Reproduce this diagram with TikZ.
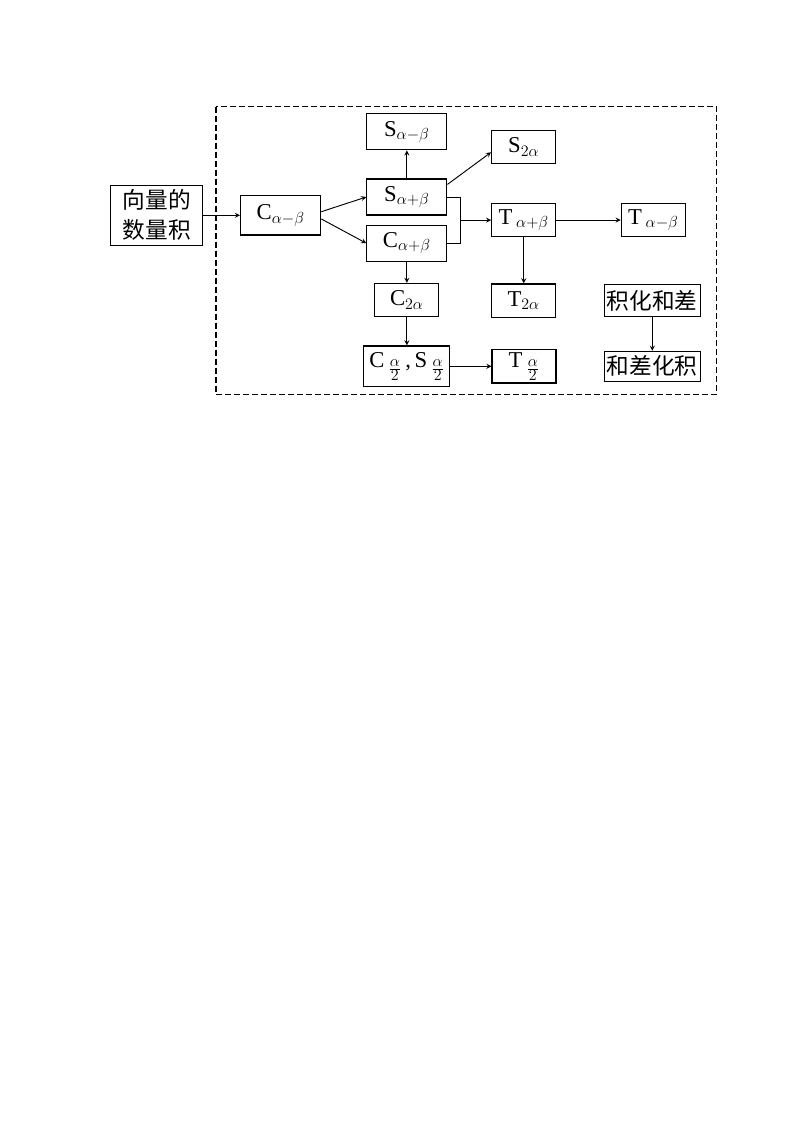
\documentclass[tikz,border=0pt]{standalone}
\usepackage{fontspec}
\setmainfont{Liberation Serif}
\newfontfamily\cjk{Noto Sans CJK SC}
\usetikzlibrary{arrows, calc, positioning}

\newcommand{\halfa}{\,\raisebox{-4.5pt}{$\scriptstyle\frac{\scriptstyle\alpha}{\scriptstyle 2}$}}

\begin{document}
\begin{tikzpicture}[>=stealth, font=\fontsize{17}{20}\selectfont, line width=0.7pt,
	box/.style={draw, line width=0.9pt, inner sep=2pt, minimum width=60pt, minimum height=27pt},
	sbox/.style={box, minimum width=48pt, minimum height=25pt},
	cnbox/.style={box, inner sep=2pt, font=\cjk\fontsize{17}{22.5}\selectfont},
	dashframe/.style={draw, line width=0.9pt, dash pattern=on 4.5pt off 2.25pt}]

\useasboundingbox (0,0) rectangle (594.75pt,-842.25pt);

\begin{scope}
	\node[box, minimum height=29.5pt] (c-amb) at (210.5pt,-161.5pt) {C$_{\alpha-\beta}$};
	\node[cnbox, left=27.5pt of c-amb, minimum width=69pt, minimum height=45pt, align=center, ] (vec) {向量的\\数量积};

	\node[box, right=33.75pt of c-amb, yshift=13.75pt] (s-apb) {S$_{\alpha+\beta}$};
	\node[box, below=6.75pt of s-apb] (c-apb) {C$_{\alpha+\beta}$};
	\node[box, above=21pt of s-apb] (s-amb) {S$_{\alpha-\beta}$};
	\node[sbox, below=15.75pt of c-apb] (c-2a) {C$_{2\alpha}$};
	\node[box, below=21pt of c-2a, minimum width=64.5pt, minimum height=30.5pt] (cs-half) {C\halfa\,,\,S\halfa};

	\coordinate (brk) at ($(s-apb.east)!0.5!(c-apb.east)+(9.5pt,0)$);

	\node[sbox, right=23.25pt of brk] (t-apb) {T\,$_{\alpha+\beta}$};
	\node[sbox, right=48.3pt of t-apb] (t-amb) {T\,$_{\alpha-\beta}$};
	\node[sbox, above=29pt of t-apb] (s-2a) {S$_{2\alpha}$};
	\node[sbox, below=34.5pt of t-apb] (t-2a) {T$_{2\alpha}$};
	\node[sbox, right=30.75pt of cs-half, minimum height=22.5pt] (t-half) {T\halfa};

	\node[cnbox, right=35.5pt of t-2a, minimum height=24.25pt] (jhhc) {积化和差};
	\node[cnbox, below=25pt of jhhc, minimum height=22.5pt] (hcjh) {和差化积};
\end{scope}

\draw[dashframe] ($(c-amb.west |- s-amb.north)+(-18pt,5pt)$) rectangle ($(jhhc.east |- cs-half.south)+(11.75pt,-5.5pt)$);

\draw[->] (vec) -- (c-amb);
\draw[->] ([yshift=2.7pt]c-amb.east) -- (s-apb.west);
\draw[->] ([yshift=-2.7pt]c-amb.east) -- (c-apb.west);

\draw[->] (s-apb) -- (s-amb);
\draw[->] ([yshift=-4.5pt]s-apb.north east) -- ([yshift=-4pt]s-2a.west);
\draw[->] (c-apb) -- (c-2a);
\draw[->] (c-2a) -- (cs-half);
\draw[->] (cs-half) -- (t-half);

\draw (s-apb.east) -| (brk) |- (c-apb.east);
\draw[->] (brk) -- (t-apb);
\draw[->] (t-apb) -- (t-amb);
\draw[->] (t-apb) -- (t-2a);

\draw[->] (jhhc) -- (hcjh);

\end{tikzpicture}
\end{document}
